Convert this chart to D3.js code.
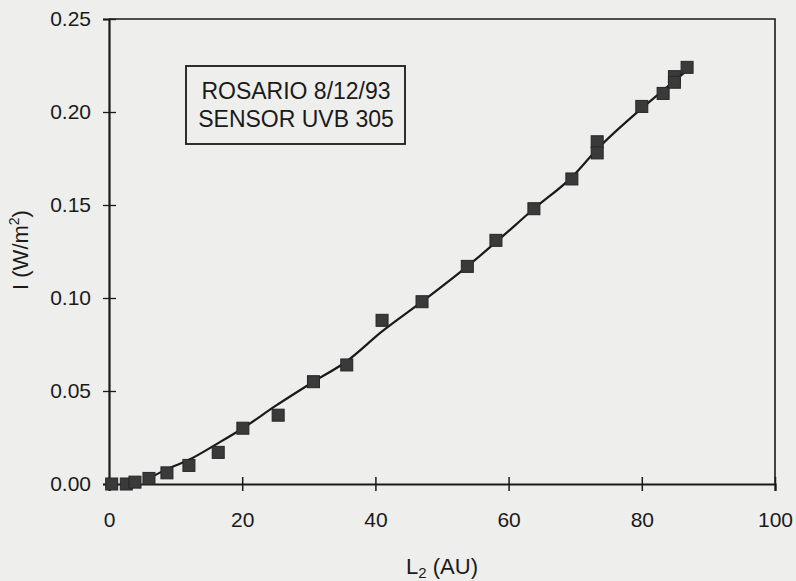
<!DOCTYPE html>
<html>
<head>
<meta charset="utf-8">
<script src="https://cdn.jsdelivr.net/npm/d3@7"></script>
<style>
  body { margin: 0; background: #eeeeec; }
  svg { display: block; font-family: "Liberation Sans", Arial, sans-serif; }
</style>
</head>
<body>
<svg id="chart"></svg>
<script>
// measured points
const l2 = [0.4, 2.6, 3.9, 6.0, 8.7, 12.0, 16.4, 20.1, 25.4, 30.7, 35.7, 41.0, 47.0, 53.8, 58.1, 63.8, 69.5, 73.3, 73.3, 80.0, 83.2, 84.9, 84.9, 86.8];
const irr = [0.000, 0.000, 0.001, 0.003, 0.006, 0.010, 0.017, 0.030, 0.037, 0.055, 0.064, 0.088, 0.098, 0.117, 0.131, 0.148, 0.164, 0.184, 0.178, 0.203, 0.210, 0.219, 0.216, 0.224];

// fitted curve
const fitL2 = [6, 8.7, 12, 16.4, 20.1, 25, 30.7, 35.7, 41, 47, 53.8, 58.1, 63.8, 69.5, 73.3, 80, 84, 87];
const fitI = [0.003, 0.008, 0.013, 0.022, 0.030, 0.042, 0.055, 0.066, 0.082, 0.098, 0.117, 0.130, 0.148, 0.165, 0.180, 0.202, 0.214, 0.223];

const xTicks = [0, 20, 40, 60, 80, 100];
const yTicks = [0, 0.05, 0.10, 0.15, 0.20, 0.25];
const legendLines = ["ROSARIO 8/12/93", "SENSOR UVB 305"];

const width = 796, height = 581;
const svg = d3.select("#chart").attr("width", width).attr("height", height);

const x = d3.scaleLinear().domain([0, 100]).range([109, 775]);
const y = d3.scaleLinear().domain([0, 0.25]).range([484, 19]);
const ink = "#1a1a1a";

// frame (top and right)
svg.append("path")
  .attr("d", `M${x(0)},${y(0.25)}H${x(100)}V${y(0)}`)
  .attr("fill", "none").attr("stroke", ink).attr("stroke-width", 1.6);

// y axis
const yAxis = svg.append("g")
  .attr("transform", `translate(${x(0)},0)`)
  .call(d3.axisLeft(y).tickValues(yTicks).tickFormat(d3.format(".2f"))
    .tickSize(6).tickPadding(12));
yAxis.select(".domain").attr("stroke", ink).attr("stroke-width", 2.2);
yAxis.selectAll(".tick line").attr("x1", 7).attr("stroke", ink).attr("stroke-width", 1.3);
yAxis.selectAll(".tick text").attr("font-size", 21).attr("fill", ink)
  .attr("font-family", "Liberation Sans, Arial, sans-serif");

// x axis
const xAxis = svg.append("g")
  .attr("transform", `translate(0,${y(0)})`)
  .call(d3.axisBottom(x).tickValues(xTicks).tickFormat(d3.format("d"))
    .tickSize(7).tickPadding(21));
xAxis.select(".domain").attr("stroke", ink).attr("stroke-width", 2.2);
xAxis.selectAll(".tick line").attr("y1", -7).attr("stroke", ink).attr("stroke-width", 1.5);
xAxis.selectAll(".tick text").attr("font-size", 21).attr("fill", ink)
  .attr("font-family", "Liberation Sans, Arial, sans-serif");

// fitted line
const line = d3.line()
  .x((d, i) => x(fitL2[i]))
  .y(d => y(d))
  .curve(d3.curveMonotoneX);
svg.append("path")
  .datum(fitI)
  .attr("d", line)
  .attr("fill", "none")
  .attr("stroke", ink)
  .attr("stroke-width", 2.2);

// square markers
const s = 12;
svg.selectAll(".pt")
  .data(l2)
  .enter()
  .append("rect")
  .attr("class", "pt")
  .attr("x", (d) => x(d) - s / 2)
  .attr("y", (d, i) => y(irr[i]) - s / 2)
  .attr("width", s).attr("height", s)
  .attr("fill", "#3a3a3a")
  .attr("stroke", "#262626")
  .attr("stroke-width", 1);

// legend box
svg.append("rect")
  .attr("x", 186).attr("y", 66).attr("width", 219).attr("height", 78)
  .attr("fill", "#eeeeec").attr("stroke", ink).attr("stroke-width", 1.8);
svg.selectAll(".leg")
  .data(legendLines)
  .enter()
  .append("text")
  .attr("x", 296)
  .attr("y", (d, i) => 99 + i * 28)
  .attr("text-anchor", "middle")
  .attr("font-size", 23)
  .attr("fill", ink)
  .text(d => d);

// axis titles
const xt = svg.append("text")
  .attr("x", 442).attr("y", 574)
  .attr("text-anchor", "middle")
  .attr("font-size", 22).attr("fill", ink);
xt.append("tspan").text("L");
xt.append("tspan").attr("font-size", 15).attr("dy", 4).text("2");
xt.append("tspan").attr("dy", -4).text(" (AU)");

const yt = svg.append("text")
  .attr("transform", "translate(28,250) rotate(-90)")
  .attr("text-anchor", "middle")
  .attr("font-size", 22).attr("fill", ink);
yt.append("tspan").text("I (W/m");
yt.append("tspan").attr("font-size", 14).attr("dy", -9).text("2");
yt.append("tspan").attr("dy", 9).text(")");
</script>
</body>
</html>
